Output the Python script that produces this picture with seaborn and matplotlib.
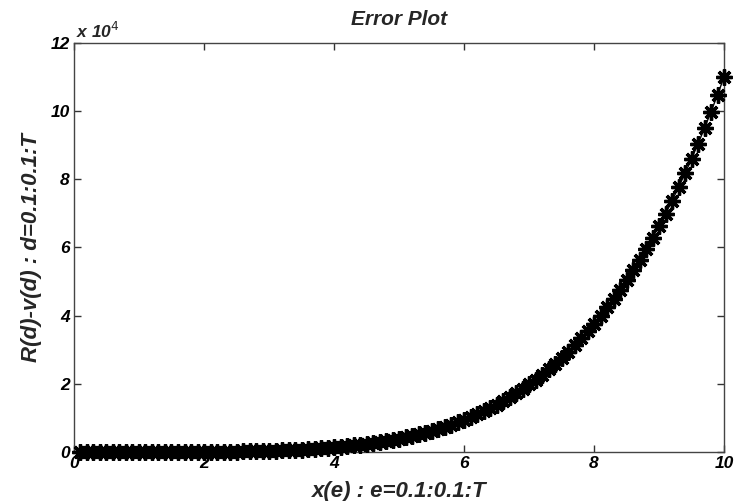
import matplotlib
matplotlib.use("Agg")
import matplotlib.pyplot as plt
import seaborn as sns
import pandas as pd
import numpy as np

sns.set_style("white")
plt.rcParams['font.family'] = ['Liberation Sans', 'DejaVu Sans']

# ======================================
# data (y in units of 1e4)
# ======================================
e_values = [round(0.1 * k, 1) for k in range(1, 101)]

error_1e4 = [
    0.0, 0.0, 0.0, 0.0, 0.0, 0.0, 0.0, 0.0, 0.0, 0.0002,
    0.0003, 0.0004, 0.0006, 0.0009, 0.0012, 0.0017, 0.0022, 0.0030, 0.0038, 0.005,
    0.006, 0.008, 0.009, 0.012, 0.014, 0.017, 0.020, 0.024, 0.029, 0.034,
    0.040, 0.046, 0.054, 0.062, 0.071, 0.082, 0.093, 0.106, 0.120, 0.135,
    0.152, 0.171, 0.192, 0.214, 0.238, 0.264, 0.293, 0.324, 0.358, 0.395,
    0.434, 0.477, 0.523, 0.571, 0.624, 0.680, 0.741, 0.805, 0.874, 0.947,
    1.025, 1.109, 1.197, 1.291, 1.391, 1.497, 1.609, 1.728, 1.853, 1.986,
    2.125, 2.272, 2.427, 2.593, 2.764, 2.947, 3.136, 3.337, 3.550, 3.770,
    4.002, 4.241, 4.499, 4.763, 5.043, 5.333, 5.635, 5.953, 6.289, 6.632,
    6.994, 7.373, 7.767, 8.173, 8.601, 9.042, 9.506, 9.984, 10.48, 11.0,
]

x_ticks = [0, 2, 4, 6, 8, 10]
y_ticks = [0, 2, 4, 6, 8, 10, 12]

df = pd.DataFrame({'e': e_values, 'err': error_1e4})

fig = plt.figure(figsize=(7.37, 5.01), dpi=100)
ax = fig.add_axes([0.1004, 0.0978, 0.882, 0.8164])

sns.lineplot(data=df, x='e', y='err', ax=ax, color='black', linewidth=1.0,
             marker=(8, 2, 0), markersize=11.5, markeredgewidth=2.4,
             markeredgecolor='black', sort=False, estimator=None, clip_on=False,
             zorder=3)

ax.set_xlim(0, 10)
ax.set_ylim(0, 12)
ax.set_xticks(x_ticks)
ax.set_yticks(y_ticks)
ax.set_xticklabels([str(t) for t in x_ticks])
ax.set_yticklabels([str(t) for t in y_ticks])

for lbl in ax.get_xticklabels() + ax.get_yticklabels():
    lbl.set_fontsize(12.5)
    lbl.set_fontweight('bold')
    lbl.set_fontstyle('italic')

ax.tick_params(direction='in', length=5, width=1, colors='#333333',
               top=True, right=True, bottom=True, left=True,
               labelcolor='black', pad=3)

for sp in ax.spines.values():
    sp.set_visible(True)
    sp.set_color('#444444')
    sp.set_linewidth(1.0)

ax.set_title('Error Plot', fontsize=15, fontweight='bold', fontstyle='italic', pad=13)
ax.set_xlabel('x(e) : e=0.1:0.1:T', fontsize=16, fontweight='bold',
              fontstyle='italic', labelpad=7)
ax.set_ylabel('R(d)-v(d) : d=0.1:0.1:T', fontsize=16, fontweight='bold',
              fontstyle='italic', labelpad=6)

ax.text(0.003, 1.006, r'x 10$^{4}$', transform=ax.transAxes, ha='left', va='bottom',
        fontsize=12.5, fontweight='bold', fontstyle='italic')

fig.savefig('out.png', dpi=100)
